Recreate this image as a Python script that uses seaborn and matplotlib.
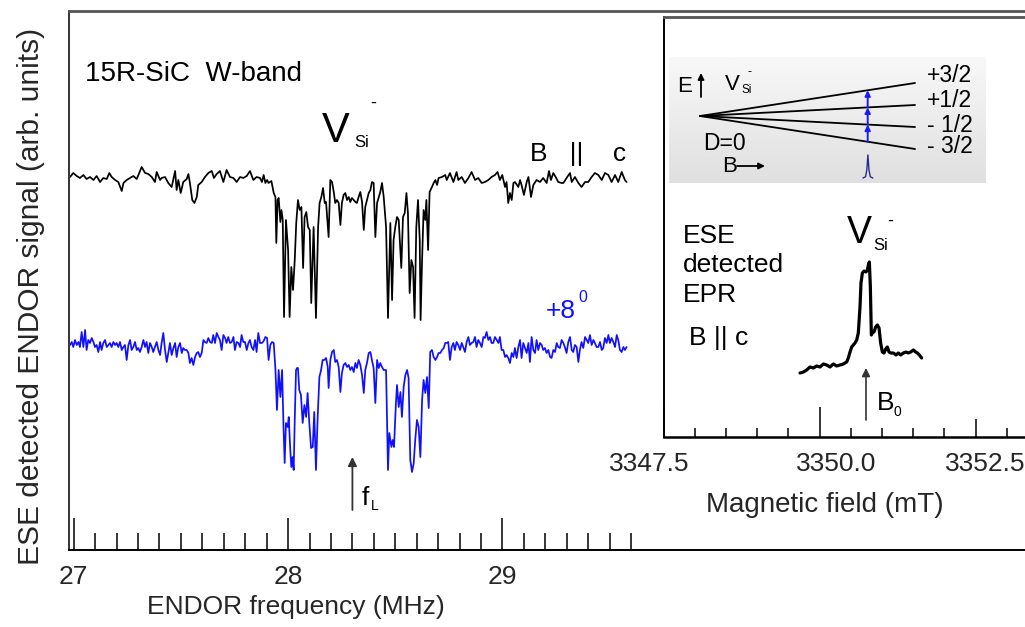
import numpy as np
import pandas as pd
import matplotlib
matplotlib.use("Agg")
import matplotlib.pyplot as plt
import seaborn as sns
from matplotlib.ticker import FixedLocator
from matplotlib.transforms import ScaledTranslation

# ---------------- data ----------------
# B || c ENDOR trace (black)
black_freq = [
    26.983, 26.998, 27.014, 27.029, 27.045, 27.060, 27.076, 27.092, 27.107, 27.123,
    27.138, 27.154, 27.166, 27.177, 27.193, 27.208, 27.224, 27.232, 27.247, 27.263,
    27.278, 27.294, 27.317, 27.333, 27.348, 27.364, 27.379, 27.387, 27.403, 27.410,
    27.426, 27.441, 27.457, 27.473, 27.480, 27.488, 27.499, 27.511, 27.527, 27.535,
    27.542, 27.553, 27.563, 27.574, 27.581, 27.597, 27.612, 27.628, 27.644, 27.654,
    27.667, 27.682, 27.698, 27.713, 27.729, 27.745, 27.760, 27.776, 27.791, 27.807,
    27.822, 27.838, 27.853, 27.869,
    27.878, 27.886, 27.894, 27.902, 27.909, 27.922, 27.933, 27.941, 27.945, 27.951,
    27.956, 27.964, 27.969, 27.975, 27.981, 27.990, 28.000, 28.007, 28.015, 28.023,
    28.031, 28.038, 28.046, 28.054, 28.062, 28.070, 28.077, 28.085, 28.093, 28.101,
    28.108, 28.119, 28.130, 28.140, 28.147, 28.155, 28.163, 28.171, 28.177, 28.189,
    28.197, 28.205, 28.213, 28.220, 28.228, 28.236, 28.244, 28.251, 28.259, 28.267,
    28.275, 28.283, 28.290, 28.298, 28.314, 28.321, 28.329, 28.337, 28.345, 28.353,
    28.360, 28.368, 28.376, 28.384, 28.391, 28.399, 28.407, 28.415, 28.423, 28.430,
    28.438, 28.446, 28.457, 28.466, 28.477, 28.485, 28.492, 28.500, 28.508, 28.516,
    28.528, 28.536, 28.544, 28.552, 28.559, 28.567, 28.575, 28.583, 28.590, 28.598,
    28.606, 28.614, 28.618, 28.625, 28.632, 28.640, 28.645, 28.653, 28.660, 28.671,
    28.679, 28.687, 28.695, 28.702, 28.718, 28.733,
    28.740, 28.755, 28.771, 28.786, 28.794, 28.810, 28.825, 28.841, 28.856, 28.872,
    28.887, 28.903, 28.918, 28.934, 28.949, 28.965, 28.977, 28.988, 28.999, 29.012,
    29.019, 29.027, 29.035, 29.043, 29.051, 29.058, 29.074, 29.082, 29.089, 29.100,
    29.113, 29.121, 29.133, 29.144, 29.159, 29.175, 29.190, 29.206, 29.217, 29.226,
    29.237, 29.248, 29.260, 29.276, 29.284, 29.299, 29.315, 29.323, 29.338, 29.354,
    29.369, 29.385, 29.400, 29.416, 29.431, 29.447, 29.463, 29.478, 29.494, 29.509,
    29.525, 29.540, 29.556, 29.571, 29.579,
]
black_signal = [
    3.73, 3.77, 3.74, 3.72, 3.75, 3.71, 3.73, 3.70, 3.74, 3.68,
    3.72, 3.71, 3.77, 3.73, 3.70, 3.68, 3.59, 3.67, 3.70, 3.72,
    3.74, 3.71, 3.83, 3.77, 3.76, 3.73, 3.68, 3.78, 3.70, 3.72,
    3.73, 3.67, 3.63, 3.79, 3.60, 3.70, 3.57, 3.68, 3.71, 3.76,
    3.67, 3.50, 3.47, 3.53, 3.65, 3.68, 3.73, 3.77, 3.79, 3.72,
    3.76, 3.79, 3.68, 3.80, 3.73, 3.72, 3.68, 3.73, 3.72, 3.74,
    3.79, 3.70, 3.73, 3.72,
    3.68, 3.75, 3.67, 3.70, 3.67, 3.69, 3.57, 3.53, 3.07, 3.50,
    3.52, 3.28, 3.40, 3.30, 2.33, 3.30, 3.00, 2.33, 2.83, 2.60,
    2.90, 3.27, 3.50, 3.40, 3.43, 2.82, 3.33, 3.38, 3.23, 3.20,
    2.47, 3.23, 2.32, 3.23, 3.47, 3.53, 3.62, 3.47, 3.48, 3.13,
    3.70, 3.68, 3.58, 3.47, 3.50, 3.47, 3.25, 3.47, 3.55, 3.57,
    3.50, 3.53, 3.48, 3.52, 3.48, 3.47, 3.53, 3.58, 3.48, 3.20,
    3.43, 3.50, 3.57, 3.60, 3.68, 3.67, 3.13, 3.47, 3.53, 3.58,
    3.67, 3.53, 3.23, 2.32, 3.27, 2.50, 3.10, 3.23, 3.33, 3.30,
    2.82, 3.33, 3.37, 3.57, 3.37, 2.57, 2.90, 2.83, 2.32, 3.23,
    3.50, 3.10, 2.30, 2.90, 3.40, 3.30, 3.50, 3.00, 3.58, 3.63,
    3.67, 3.70, 3.65, 3.72, 3.73, 3.75,
    3.70, 3.77, 3.68, 3.78, 3.70, 3.73, 3.67, 3.72, 3.78, 3.70,
    3.72, 3.67, 3.68, 3.70, 3.73, 3.75, 3.78, 3.70, 3.75, 3.63,
    3.68, 3.47, 3.57, 3.50, 3.67, 3.68, 3.63, 3.70, 3.65, 3.55,
    3.68, 3.73, 3.53, 3.65, 3.70, 3.68, 3.72, 3.67, 3.79, 3.70,
    3.77, 3.73, 3.68, 3.67, 3.67, 3.72, 3.77, 3.68, 3.73, 3.67,
    3.63, 3.68, 3.68, 3.73, 3.77, 3.75, 3.70, 3.77, 3.75, 3.68,
    3.75, 3.68, 3.78, 3.70, 3.68,
]

# +8 degree ENDOR trace (blue)
blue_freq = [
    26.983, 26.991, 26.998, 27.006, 27.014, 27.022, 27.029, 27.037, 27.045, 27.053,
    27.060, 27.068, 27.076, 27.084, 27.092, 27.099, 27.107, 27.115, 27.123, 27.130,
    27.138, 27.146, 27.154, 27.162, 27.169, 27.177, 27.185, 27.193, 27.200, 27.208,
    27.216, 27.224, 27.232, 27.239, 27.247, 27.255, 27.263, 27.270, 27.278, 27.286,
    27.294, 27.301, 27.309, 27.317, 27.325, 27.333, 27.340, 27.348, 27.356, 27.364,
    27.371, 27.379, 27.387, 27.395, 27.403, 27.410, 27.418, 27.426, 27.434, 27.441,
    27.449, 27.457, 27.465, 27.473, 27.480, 27.488, 27.496, 27.504, 27.511, 27.519,
    27.527, 27.535, 27.542, 27.550, 27.558, 27.566, 27.574, 27.581, 27.589, 27.597,
    27.605, 27.612, 27.620, 27.628, 27.636, 27.644, 27.651, 27.659, 27.667, 27.675,
    27.682, 27.690, 27.698, 27.706, 27.713, 27.721, 27.729, 27.737, 27.745, 27.752,
    27.760, 27.768, 27.776, 27.783, 27.791, 27.799, 27.807, 27.815, 27.822, 27.830,
    27.838, 27.846, 27.853, 27.861, 27.869,
    27.878, 27.886, 27.894, 27.902, 27.909, 27.917, 27.925, 27.933, 27.941, 27.948,
    27.956, 27.964, 27.972, 27.979, 27.984, 27.990, 27.998, 28.003, 28.009, 28.015,
    28.021, 28.026, 28.031, 28.037, 28.042, 28.046, 28.052, 28.060, 28.068, 28.076,
    28.084, 28.091, 28.099, 28.107, 28.115, 28.122, 28.130, 28.138, 28.146, 28.154,
    28.161, 28.169, 28.177, 28.185, 28.189, 28.197, 28.205, 28.213, 28.220, 28.228,
    28.236, 28.244, 28.251, 28.259, 28.267, 28.275, 28.283, 28.290, 28.298, 28.306,
    28.314, 28.321, 28.329, 28.337, 28.345, 28.353, 28.360, 28.368, 28.376, 28.384,
    28.391, 28.399, 28.407, 28.415, 28.423, 28.430, 28.438, 28.446, 28.457, 28.466,
    28.472, 28.482, 28.488, 28.494, 28.503, 28.508, 28.516, 28.524, 28.531, 28.539,
    28.547, 28.555, 28.562, 28.570, 28.578, 28.586, 28.593, 28.601, 28.609, 28.617,
    28.625, 28.632, 28.640, 28.648, 28.656, 28.663, 28.671, 28.679, 28.687, 28.695,
    28.702, 28.710, 28.718, 28.726, 28.733,
    28.740, 28.747, 28.755, 28.763, 28.771, 28.778, 28.786, 28.794, 28.802, 28.810,
    28.817, 28.825, 28.833, 28.841, 28.848, 28.856, 28.864, 28.872, 28.879, 28.887,
    28.895, 28.903, 28.911, 28.918, 28.926, 28.934, 28.942, 28.949, 28.957, 28.965,
    28.973, 28.981, 28.988, 28.996, 29.004, 29.012, 29.019, 29.027, 29.035, 29.043,
    29.051, 29.058, 29.066, 29.074, 29.082, 29.089, 29.097, 29.105, 29.113, 29.121,
    29.128, 29.136, 29.144, 29.152, 29.159, 29.167, 29.175, 29.183, 29.190, 29.198,
    29.206, 29.214, 29.222, 29.229, 29.237, 29.245, 29.253, 29.260, 29.268, 29.276,
    29.284, 29.291, 29.299, 29.307, 29.315, 29.323, 29.330, 29.338, 29.346, 29.354,
    29.361, 29.369, 29.377, 29.385, 29.393, 29.400, 29.408, 29.416, 29.424, 29.431,
    29.439, 29.447, 29.455, 29.463, 29.470, 29.478, 29.486, 29.494, 29.501, 29.509,
    29.517, 29.525, 29.533, 29.540, 29.548, 29.556, 29.564, 29.571, 29.579,
]
blue_signal = [
    2.05, 2.08, 2.03, 2.10, 2.05, 2.08, 2.03, 2.18, 2.03, 2.20,
    2.00, 2.10, 2.07, 2.12, 2.08, 2.03, 2.05, 1.98, 2.08, 2.00,
    2.07, 2.10, 2.03, 2.05, 2.07, 2.03, 2.08, 2.05, 2.07, 2.03,
    2.08, 2.00, 2.03, 2.05, 1.90, 2.05, 2.10, 2.00, 2.03, 2.08,
    2.00, 2.02, 1.98, 2.03, 2.10, 2.03, 2.08, 1.97, 2.07, 2.03,
    1.98, 2.03, 2.08, 2.00, 1.95, 2.07, 2.17, 2.00, 1.88, 1.97,
    2.07, 1.95, 2.02, 2.07, 1.93, 2.03, 2.07, 1.97, 2.02, 2.00,
    2.00, 1.97, 1.87, 1.92, 1.85, 1.93, 1.97, 1.98, 1.93, 1.97,
    2.10, 2.08, 2.07, 2.12, 2.08, 2.07, 2.15, 2.07, 2.17, 2.13,
    2.10, 2.00, 2.15, 2.12, 2.07, 2.13, 2.07, 2.08, 2.13, 2.00,
    2.08, 2.07, 2.03, 2.15, 2.08, 2.08, 2.00, 2.07, 2.10, 2.03,
    2.00, 2.10, 1.98, 2.17, 2.07,
    2.07, 2.09, 2.13, 2.12, 1.90, 2.05, 2.08, 2.07, 1.80, 1.40,
    1.80, 1.53, 1.80, 1.20, 0.87, 1.27, 1.23, 1.33, 1.05, 0.83,
    0.93, 0.80, 1.30, 1.80, 1.82, 1.82, 1.60, 1.55, 1.27, 1.45,
    1.33, 1.57, 1.27, 1.02, 1.03, 1.38, 0.80, 1.33, 1.73, 1.80,
    1.90, 1.90, 1.92, 1.83, 1.62, 1.90, 1.98, 2.00, 1.88, 1.90,
    1.83, 1.58, 1.77, 1.85, 1.87, 1.83, 1.85, 1.80, 1.83, 1.78,
    1.87, 1.82, 1.90, 1.85, 1.75, 1.57, 1.80, 1.87, 1.97, 1.98,
    1.90, 1.82, 1.47, 1.90, 1.82, 1.87, 1.83, 1.80, 1.80, 0.80,
    1.17, 1.03, 1.10, 1.03, 1.47, 1.65, 1.43, 1.58, 1.33, 1.63,
    1.75, 1.80, 1.72, 0.90, 0.78, 0.87, 1.10, 1.30, 1.23, 0.93,
    1.50, 1.70, 1.57, 1.73, 1.42, 1.98, 2.00, 1.93, 1.90, 1.93,
    1.97, 1.97, 2.00, 2.02, 2.07,
    2.07, 2.08, 1.90, 2.03, 2.07, 2.00, 2.08, 2.05, 2.00, 2.07,
    2.03, 1.98, 2.08, 2.13, 2.05, 2.07, 2.08, 2.13, 2.03, 2.10,
    2.07, 2.03, 2.13, 2.12, 2.18, 2.10, 2.13, 2.07, 2.07, 2.13,
    2.10, 2.07, 2.13, 2.00, 2.00, 1.93, 1.95, 1.92, 1.87, 1.97,
    1.93, 2.02, 1.92, 2.03, 2.10, 1.92, 2.07, 2.02, 1.97, 2.07,
    1.88, 2.13, 2.00, 1.97, 2.10, 2.00, 2.07, 2.05, 2.00, 2.02,
    1.97, 2.00, 1.93, 1.92, 2.00, 1.98, 2.07, 2.03, 2.02, 2.10,
    2.07, 2.03, 1.97, 2.08, 2.13, 2.00, 1.98, 2.05, 2.03, 1.88,
    2.00, 2.08, 2.02, 2.13, 2.10, 2.07, 2.15, 2.05, 2.10, 2.07,
    2.03, 2.03, 2.08, 2.00, 2.02, 2.12, 2.07, 2.15, 2.07, 2.12,
    2.08, 2.03, 2.15, 2.10, 2.00, 1.98, 2.03, 2.00, 2.03,
]

# Inset: ESE detected EPR line
epr_field = [
    3349.688, 3349.741, 3349.794, 3349.848, 3349.901, 3349.955, 3350.008, 3350.062,
    3350.115, 3350.168, 3350.222, 3350.275, 3350.329, 3350.382, 3350.435, 3350.462,
    3350.489, 3350.516, 3350.542, 3350.569, 3350.596, 3350.622, 3350.649, 3350.665,
    3350.687, 3350.713, 3350.745, 3350.767, 3350.783, 3350.799, 3350.815, 3350.831,
    3350.852, 3350.873, 3350.900, 3350.927, 3350.954, 3350.980, 3351.007, 3351.034,
    3351.061, 3351.087, 3351.114, 3351.141, 3351.183, 3351.226, 3351.263, 3351.301,
    3351.344, 3351.386, 3351.424, 3351.461, 3351.504, 3351.541, 3351.568, 3351.600,
    3351.637,
]
epr_signal = [
    0.64, 0.65, 0.67, 0.70, 0.69, 0.71, 0.70, 0.73,
    0.72, 0.70, 0.73, 0.71, 0.72, 0.73, 0.75, 0.79,
    0.85, 0.90, 0.92, 0.94, 0.97, 1.04, 1.30, 1.54,
    1.64, 1.66, 1.65, 1.67, 1.72, 1.75, 1.50, 1.02,
    1.05, 1.05, 1.10, 1.12, 1.09, 0.94, 0.85, 0.84,
    0.88, 0.90, 0.85, 0.84, 0.84, 0.82, 0.84, 0.82,
    0.84, 0.85, 0.84, 0.85, 0.87, 0.85, 0.84, 0.82,
    0.79,
]

# axis ticks
endor_major = [27, 28, 29]
endor_major_labels = ["27", "28", "29"]
endor_minor = [27.1, 27.2, 27.3, 27.4, 27.5, 27.6, 27.7, 27.8, 27.9,
               28.1, 28.2, 28.3, 28.4, 28.5, 28.6, 28.7, 28.8, 28.9,
               29.1, 29.2, 29.3, 29.4, 29.5, 29.6]
field_major = [3347.5, 3350.0, 3352.5]
field_major_labels = ["3347.5", "3350.0", "3352.5"]
field_minor = [3348.0, 3348.5, 3349.0, 3349.5, 3350.5, 3351.0, 3351.5, 3352.0, 3353.0]

f_larmor = 28.30        # MHz
B0_field = 3350.745     # mT

# energy level scheme (schematic): m_s levels, resonance position
ms_levels = [1.5, 0.5, -0.5, -1.5]
ms_labels = ["+3/2", "+1/2", "- 1/2", "- 3/2"]
B_res = 0.78
spike_B = [0.758, 0.770, 0.776, 0.781, 0.786, 0.792, 0.804]
spike_E = [-2.82, -2.76, -2.45, -1.77, -2.45, -2.76, -2.82]

# ---------------- figure ----------------
sns.set_theme(style="white")
plt.rcParams["font.family"] = ["Liberation Sans", "DejaVu Sans"]

W, H = 1025, 627
fig = plt.figure(figsize=(W / 100, H / 100), dpi=100)
fig.patch.set_facecolor("white")


def ptxt(x, y, s, size, color="black", ha="left", va="baseline", **kw):
    return fig.text(x / W, 1 - y / H, s, fontsize=size, color=color, ha=ha, va=va, **kw)


# ---- main axes ----
ax = fig.add_axes([69 / W, 1 - 550 / H, (1032 - 69) / W, (550 - 11) / H])
ax.set_facecolor("white")
df_black = pd.DataFrame({"freq": black_freq, "signal": black_signal})
df_blue = pd.DataFrame({"freq": blue_freq, "signal": blue_signal})
sns.lineplot(data=df_black, x="freq", y="signal", ax=ax, color="black",
             linewidth=1.25, estimator=None, sort=False)
sns.lineplot(data=df_blue, x="freq", y="signal", ax=ax, color="#1010ff",
             linewidth=1.25, estimator=None, sort=False)
ax.set_xlim(26.978, 31.47)
ax.set_ylim(0, 5.39)
ax.set_xticks(endor_major)
ax.set_xticklabels(endor_major_labels)
ax.xaxis.set_minor_locator(FixedLocator(endor_minor))
ax.tick_params(axis="x", which="major", direction="in", length=23, width=1.1,
               color="black", pad=11, labelsize=19, bottom=True)
ax.tick_params(axis="x", which="minor", direction="in", length=12, width=1.1,
               color="black", bottom=True)
ax.set_yticks([])
ax.spines["right"].set_visible(False)
ax.spines["left"].set_color("#333333")
ax.spines["left"].set_linewidth(1.4)
ax.spines["top"].set_color("#555555")
ax.spines["top"].set_linewidth(2.0)
ax.spines["bottom"].set_color("black")
ax.spines["bottom"].set_linewidth(1.4)

ax.set_xlabel("ENDOR frequency (MHz)", fontsize=19)
ax.xaxis.set_label_coords((296 - 69) / (1032 - 69), (550 - 607) / 539)
ax.xaxis.label.set_va("center")
ax.set_ylabel("ESE detected ENDOR signal (arb. units)", fontsize=21.5)
ax.yaxis.set_label_coords((31 - 69) / (1032 - 69), (550 - 296) / 539)
ax.yaxis.label.set_va("center")

ax.annotate("", xy=(f_larmor, 0.93), xytext=(f_larmor, 0.40),
            arrowprops=dict(arrowstyle="-|>", color="#333333", lw=1.3,
                            mutation_scale=13, shrinkA=0, shrinkB=0))

# main texts
ptxt(85, 81, "15R-SiC  W-band", 20)
ptxt(322, 142, "V", 30)
ptxt(354, 147, "Si", 12)
ptxt(370, 108, "-", 13)
ptxt(530, 161, "B   ||    c", 19)
ptxt(546, 318, "+8", 19, color="#1010ff")
ptxt(578, 302, "0", 11.5, color="#1010ff")
ptxt(362, 505, "f", 19)
ptxt(371, 510, "L", 10)

# ---- inset axes ----
ax2 = fig.add_axes([663.5 / W, 1 - 437 / H, (1032 - 663.5) / W, (437 - 17) / H])
ax2.set_facecolor("white")
df_epr = pd.DataFrame({"field": epr_field, "signal": epr_signal})
sns.lineplot(data=df_epr, x="field", y="signal", ax=ax2, color="black",
             linewidth=2.3, estimator=None, sort=False)
ax2.set_xlim(3347.5, 3347.5 + (1032 - 663.5) / 62.4)
ax2.set_ylim(0, 4.20)
ax2.set_xticks(field_major)
ax2.set_xticklabels(field_major_labels)
ax2.xaxis.set_minor_locator(FixedLocator(field_minor))
ax2.tick_params(axis="x", which="major", direction="in", length=21.5, width=1.1,
                color="black", pad=11, labelsize=19, bottom=True)
ax2.tick_params(axis="x", which="minor", direction="in", length=6.5, width=1.1,
                color="black", bottom=True)
ax2.set_yticks([])
ax2.set_ylabel("")
ax2.spines["right"].set_visible(False)
ax2.spines["left"].set_color("black")
ax2.spines["left"].set_linewidth(1.4)
ax2.spines["top"].set_color("#555555")
ax2.spines["top"].set_linewidth(2.0)
ax2.spines["bottom"].set_color("black")
ax2.spines["bottom"].set_linewidth(1.8)
ax2.set_xlabel("Magnetic field (mT)", fontsize=20)
ax2.xaxis.set_label_coords((825 - 663.5) / (1032 - 663.5), (437 - 505) / 420)
ax2.xaxis.label.set_va("center")
mticks = ax2.xaxis.get_major_ticks()
mticks[2].tick1line.set_markersize(13)
for lab, dx in zip(ax2.get_xticklabels(), [-14, 17, 10]):
    lab.set_transform(lab.get_transform() + ScaledTranslation(dx / 100, 0, fig.dpi_scale_trans))

ax2.annotate("", xy=(B0_field, 0.69), xytext=(B0_field, 0.17),
             arrowprops=dict(arrowstyle="-|>", color="#333333", lw=1.2,
                             mutation_scale=12, shrinkA=0, shrinkB=0))

ptxt(683, 243, "ESE", 19)
ptxt(683, 272, "detected", 19)
ptxt(683, 302, "EPR", 19)
ptxt(689, 345, "B || c", 19)
ptxt(847, 243, "V", 27)
ptxt(873, 250, "Si", 12)
ptxt(887, 226, "-", 13)
ptxt(877, 410, "B", 19)
ptxt(893, 416, "0", 10)

# ---- energy level scheme ----
ax3 = fig.add_axes([669 / W, 1 - 183 / H, (986 - 669) / W, (183 - 57) / H])
xl = (-31 / 215, 286 / 215)
yl = (-(183 - 116) / 22, (116 - 57) / 22)
grad = np.linspace(0.875, 0.97, 64).reshape(-1, 1)
ax3.imshow(grad, cmap="gray", vmin=0, vmax=1, aspect="auto",
           extent=(xl[0], xl[1], yl[1], yl[0]), origin="upper", zorder=0)
ax3.set_xlim(*xl)
ax3.set_ylim(*yl)
ax3.axis("off")
for m in ms_levels:
    ax3.plot([0, 1], [0, m], color="black", lw=1.3, zorder=2)
for lo, hi in zip(ms_levels[::-1][:-1], ms_levels[::-1][1:]):
    ax3.annotate("", xy=(B_res, hi * B_res), xytext=(B_res, lo * B_res),
                 arrowprops=dict(arrowstyle="-|>", color="#1a1aff", lw=1.4,
                                 mutation_scale=8, shrinkA=0, shrinkB=0), zorder=3)
ax3.plot(spike_B, spike_E, color="#2a2a8a", lw=1.0, zorder=3)

ptxt(677, 92, "E", 16)
ax3.annotate("", xy=(701 / W, 1 - 73 / H), xytext=(701 / W, 1 - 97 / H),
             xycoords="figure fraction", textcoords="figure fraction",
             arrowprops=dict(arrowstyle="-|>", color="black", lw=1.3,
                             mutation_scale=9, shrinkA=0, shrinkB=0))
ptxt(725, 90, "V", 16)
ptxt(742, 93, "Si", 8.5)
ptxt(747, 75, "-", 9)
for lab, yb in zip(ms_labels, [82, 107, 132, 153]):
    ptxt(927, yb, lab, 16.5)
ptxt(703, 150, "D=0", 16.5)
ptxt(722, 172, "B", 16)
ax3.annotate("", xy=(765 / W, 1 - 166 / H), xytext=(737 / W, 1 - 166 / H),
             xycoords="figure fraction", textcoords="figure fraction",
             arrowprops=dict(arrowstyle="-|>", color="black", lw=1.3,
                             mutation_scale=9, shrinkA=0, shrinkB=0))

fig.savefig("out.png", dpi=100)
